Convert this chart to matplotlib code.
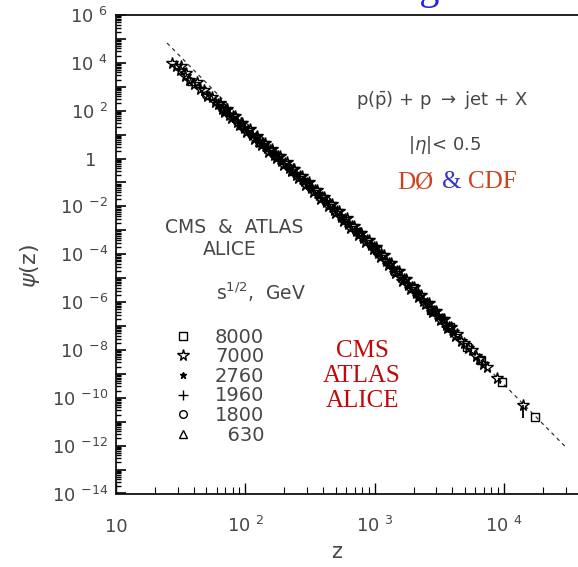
import numpy as np
import matplotlib
matplotlib.use('Agg')
import matplotlib.pyplot as plt
from matplotlib.ticker import FixedLocator, LogLocator, NullFormatter

# z values and log10(psi), one pair per marker
z_7000 = [27, 29, 31, 32, 34, 35, 37, 40, 42, 45, 48, 51, 55, 58, 62, 66, 70,
          75, 80, 86, 92, 98, 105, 112, 120, 128, 137, 146, 156, 167, 178,
          190, 203, 217, 232, 248, 265, 283, 302, 323, 345, 369, 394, 421,
          450, 481, 514, 549, 587, 627, 670, 716, 765, 818, 874, 934, 998,
          1070, 1140, 1220, 1300, 1390, 1490, 1590, 1700, 1820, 1940, 2080,
          2220, 2370, 2540, 2710, 2900, 3100, 3310, 3540, 3790, 4050, 4330,
          4630, 4950, 5290, 5660, 6050, 6470, 6920, 7400, 8900, 14100]
lg_7000 = [4.00, 3.88, 3.72, 3.86, 3.45, 3.58, 3.30, 3.12, 3.20, 2.90, 2.86,
           2.62, 2.56, 2.35, 2.30, 2.08, 2.05, 1.82, 1.77, 1.54, 1.48, 1.27,
           1.20, 0.98, 0.92, 0.71, 0.64, 0.43, 0.37, 0.15, 0.10, -0.12,
           -0.17, -0.39, -0.45, -0.67, -0.73, -0.95, -1.01, -1.24, -1.31,
           -1.54, -1.60, -1.83, -1.91, -2.14, -2.21, -2.44, -2.51, -2.73,
           -2.80, -3.03, -3.11, -3.34, -3.41, -3.63, -3.70, -3.96, -4.04,
           -4.28, -4.36, -4.61, -4.70, -4.94, -5.03, -5.28, -5.36, -5.61,
           -5.69, -5.94, -6.03, -6.27, -6.36, -6.60, -6.69, -6.94, -7.03,
           -7.27, -7.35, -7.61, -7.69, -7.93, -8.02, -8.27, -8.36, -8.60,
           -8.70, -9.19, -10.32]

# second layer of 7000 GeV points inside the dense part of the band
z_7000_b = [64, 68, 72, 77, 83, 89, 95, 101, 108, 116, 124, 132, 141, 151,
            161, 172, 184, 196, 210, 224, 240, 256, 274, 292, 312, 334, 357,
            381, 407, 435, 465, 497, 531, 568, 607, 648, 693, 740, 791, 846,
            904, 966, 1030, 1100, 1180, 1260, 1340, 1440, 1540, 1640, 1760,
            1880, 2010, 2150, 2290, 2450, 2620, 2800, 3000, 3200, 3420, 3660,
            3920, 4190]
lg_7000_b = [2.32, 1.95, 2.07, 1.69, 1.77, 1.39, 1.49, 1.12, 1.22, 0.83,
             0.93, 0.56, 0.67, 0.28, 0.39, 0.01, 0.11, -0.26, -0.16, -0.54,
             -0.44, -0.82, -0.72, -1.09, -1.00, -1.39, -1.31, -1.69, -1.60,
             -1.99, -1.90, -2.29, -2.20, -2.59, -2.50, -2.89, -2.80, -3.19,
             -3.10, -3.49, -3.40, -3.79, -3.70, -4.10, -4.04, -4.44, -4.36,
             -4.78, -4.71, -5.10, -5.04, -5.44, -5.37, -5.77, -5.69, -6.10,
             -6.03, -6.43, -6.36, -6.76, -6.69, -7.10, -7.03, -7.43]

z_2760 = [62, 71, 82, 94, 108, 124, 142, 163, 187, 214, 245, 281, 322, 369,
          423, 485, 556, 637, 730, 836, 958, 1100, 1260, 1440, 1650, 1890,
          2170, 2480, 2840, 3250]
lg_2760 = [2.22, 2.02, 1.64, 1.43, 1.06, 0.86, 0.49, 0.28, -0.09, -0.28,
           -0.65, -0.86, -1.23, -1.46, -1.84, -2.08, -2.47, -2.69, -3.08,
           -3.31, -3.69, -3.95, -4.36, -4.62, -5.04, -5.29, -5.72, -5.97,
           -6.38, -6.64]

z_8000 = [1050, 1450, 2000, 2750, 3800, 5200, 6600, 9700, 17400]
lg_8000 = [-3.83, -4.71, -5.43, -6.31, -7.03, -7.89, -8.41, -9.33, -10.82]

z_1960 = [45, 60, 80, 105, 140, 185, 245, 325, 430, 570, 760, 1000]
lg_1960 = [2.97, 2.29, 1.77, 1.12, 0.60, -0.06, -0.57, -1.25, -1.80, -2.52,
           -3.09, -3.79]

z_1800 = [50, 68, 92, 125, 170, 230, 310, 420, 560, 750]
lg_1800 = [2.67, 2.11, 1.40, 0.84, 0.12, -0.44, -1.14, -1.75, -2.48, -3.06]

z_630 = [38, 52, 70, 95, 128, 172, 230, 310]
lg_630 = [3.24, 2.67, 1.97, 1.41, 0.71, 0.17, -0.52, -1.06]

# the one point with a visible error bar (lower end)
z_err = [14100]
lg_err_mid = [-10.32]
lg_err_lo = [-10.86]

# dashed fit line end points
fit_z = [24.8, 29700]
fit_lg = [4.83, -12.03]

ytick_exp = list(range(-14, 7))
xtick_vals = [10, 100, 1000, 10000]
xtick_text = ['10', '10 $^{2}$', '10 $^{3}$', '10 $^{4}$']
legend_text = ['8000', '7000', '2760', '1960', '1800', '  630']

grey = '#474747'
plt.rcParams['font.family'] = ['DejaVu Sans']

fig = plt.figure(figsize=(5.78, 5.67), dpi=100)
ax = fig.add_axes([116 / 578, 1 - 493.5 / 567, 462 / 578, 478.5 / 567])

ax.set_xscale('log')
ax.set_yscale('log')
ax.set_xlim(10, 10 ** 4.573)
ax.set_ylim(1e-14, 1e6)

ax.plot(fit_z, 10.0 ** np.array(fit_lg), ls=(0, (3, 3)), color='#333333',
        lw=0.9, zorder=1)

styles = [(z_8000, lg_8000, 's', 6, 'none'),
          (z_7000, lg_7000, '*', 8.5, 'none'),
          (z_2760, lg_2760, '*', 5, 'k'),
          (z_1960, lg_1960, '+', 7, 'k'),
          (z_1800, lg_1800, 'o', 5.5, 'none'),
          (z_630, lg_630, '^', 6, 'none')]
handles = []
for (zz, lg, mk, ms, fc), lab in zip(styles, legend_text):
    h, = ax.plot(zz, 10.0 ** np.array(lg), ls='none', marker=mk, ms=ms,
                 mfc=fc, mec='k', mew=1.0, label=lab, zorder=2)
    handles.append(h)
ax.plot(z_7000_b, 10.0 ** np.array(lg_7000_b), ls='none', marker='*',
        ms=8.5, mfc='none', mec='k', mew=1.0, zorder=2)

mid = 10.0 ** np.array(lg_err_mid)
lo = 10.0 ** np.array(lg_err_lo)
ax.errorbar(z_err, mid, yerr=[mid - lo, np.zeros_like(mid)], fmt='none',
            ecolor='k', elinewidth=1.3, capsize=0, zorder=3)

# axes frame and ticks
for side in ['left', 'bottom', 'top']:
    ax.spines[side].set_linewidth(1.3)
    ax.spines[side].set_color('#111111')
ax.spines['right'].set_visible(False)

ax.yaxis.set_major_locator(FixedLocator([10.0 ** e for e in ytick_exp]))
ylabels = []
for e in ytick_exp:
    if e % 2:
        ylabels.append('')
    elif e == 0:
        ylabels.append('1  ')
    else:
        ylabels.append('10 $^{%d}$' % e)
ax.set_yticklabels(ylabels)
ax.yaxis.set_minor_locator(LogLocator(base=10, subs=np.arange(2, 10),
                                      numticks=40))
ax.yaxis.set_minor_formatter(NullFormatter())

ax.xaxis.set_major_locator(FixedLocator(xtick_vals))
ax.set_xticklabels(xtick_text)
ax.xaxis.set_minor_locator(LogLocator(base=10, subs=np.arange(2, 10),
                                      numticks=40))
ax.xaxis.set_minor_formatter(NullFormatter())

ax.tick_params(axis='y', which='major', direction='in', length=7.5,
               width=1.2, pad=5.5, labelsize=13, labelcolor=grey)
ax.tick_params(axis='y', which='minor', direction='in', length=3.8, width=1)
ax.tick_params(axis='x', which='major', direction='in', length=8, width=1,
               pad=27.5, labelsize=13, labelcolor=grey)
ax.tick_params(axis='x', which='minor', direction='in', length=5, width=0.8)
for t in ax.get_xticklabels():
    t.set_verticalalignment('baseline')

ax.set_xlabel('z', fontsize=15, color=grey, va='baseline')
ax.xaxis.set_label_coords(0.478, -0.135)
ax.set_ylabel(r'$\psi$(z)', fontsize=16, color=grey, va='center')
ax.yaxis.set_label_coords(-0.186, 0.475)

# annotations
ax.text(0.7056, 0.8119, r'p($\bar{\mathrm{p}}$) + p $\rightarrow$ jet + X',
        transform=ax.transAxes, ha='center', va='baseline', fontsize=13,
        color=grey)
ax.text(0.712, 0.7179, r'|$\eta$|< 0.5', transform=ax.transAxes,
        ha='center', va='baseline', fontsize=13, color=grey)

serif = 'Liberation Serif'
ax.text(0.608, 0.6384, 'DØ', transform=ax.transAxes, ha='left',
        va='baseline', fontsize=18, family=serif, color='#d1401c')
ax.text(0.706, 0.6384, '&', transform=ax.transAxes, ha='left',
        va='baseline', fontsize=18, family=serif, color='#3434c8')
ax.text(0.762, 0.6384, 'CDF', transform=ax.transAxes, ha='left',
        va='baseline', fontsize=18, family=serif, color='#d1401c')

for line, yb in zip(['CMS', 'ATLAS', 'ALICE'], [0.2853, 0.2330, 0.1808]):
    ax.text(0.5325, yb, line, transform=ax.transAxes, ha='center',
            va='baseline', fontsize=18, family=serif, color='#c00a0a')

ax.text(0.2554, 0.5444, 'CMS  &  ATLAS', transform=ax.transAxes,
        ha='center', va='baseline', fontsize=13.5, color=grey)
ax.text(0.2468, 0.4984, 'ALICE', transform=ax.transAxes, ha='center',
        va='baseline', fontsize=13.5, color=grey)
ax.text(0.3139, 0.4044, 's$^{1/2}$,  GeV', transform=ax.transAxes,
        ha='center', va='baseline', fontsize=13.5, color=grey)

leg = ax.legend(handles=handles, loc='upper left',
                bbox_to_anchor=(0.124, 0.3467), frameon=False, borderpad=0,
                borderaxespad=0, handlelength=1.0, handletextpad=1.15,
                labelspacing=0.03, fontsize=14)
for t in leg.get_texts():
    t.set_color(grey)

# title of the slide, cut off by the top edge of the picture
fig.text(440 / 578, 1 + 1 / 567, 'z-scaling', ha='right', va='baseline',
         fontsize=29, family=serif, color='#2020e0')

fig.savefig('out.png', dpi=100)
